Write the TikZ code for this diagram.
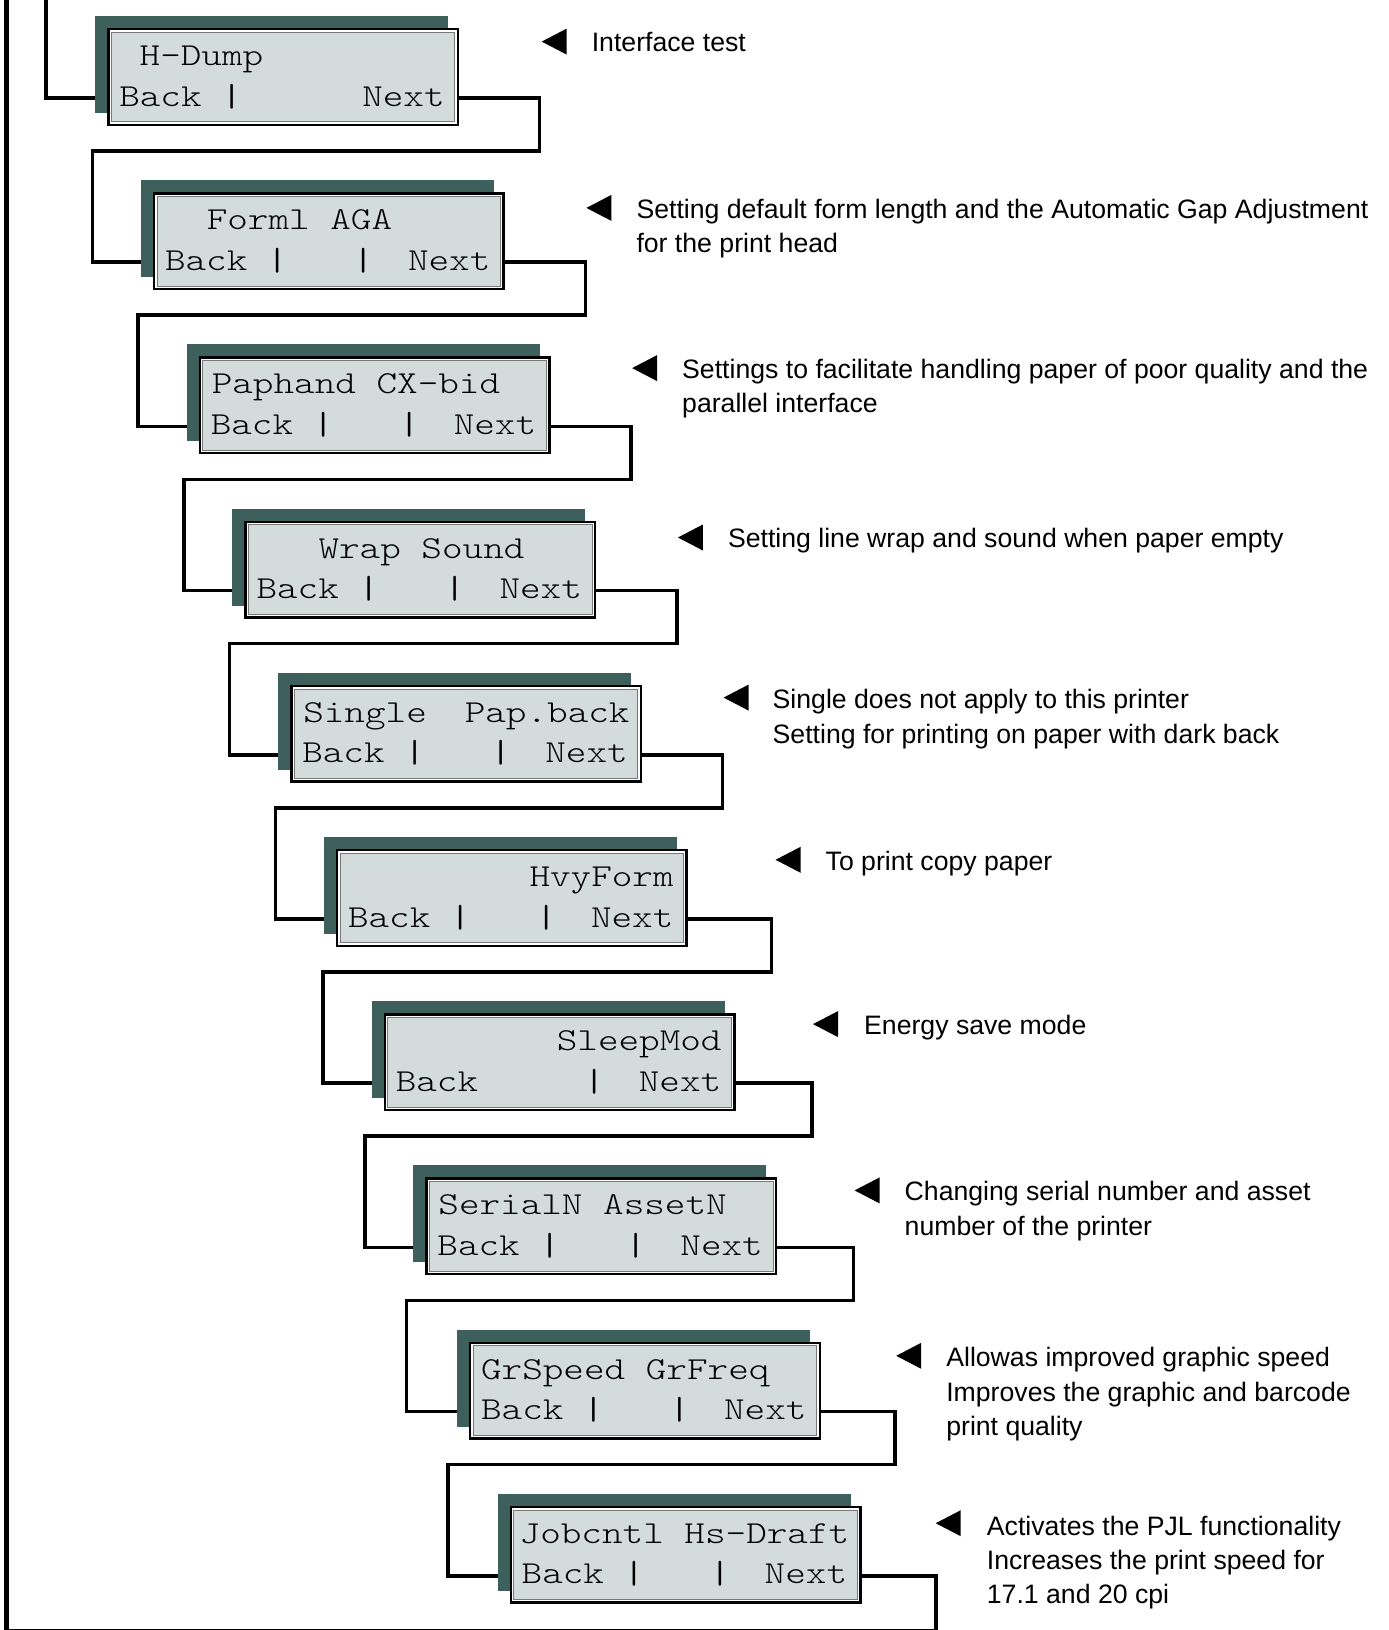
\documentclass[tikz,border=0pt]{standalone}
\usepackage{fontspec}
\usepackage{graphicx}
\usetikzlibrary{calc}
\newfontfamily\annfont{Liberation Sans}
\newfontfamily\lcdfont{lmmonolt10-regular.otf}
\definecolor{lcdfill}{RGB}{212,220,219}
\definecolor{lcdshadow}{RGB}{61,96,93}
\definecolor{lcdframe}{RGB}{120,120,120}
\newcommand\lcd[1]{\scalebox{1.226}[1]{#1}}
% #1 name, #2 left, #3 top, #4 x offset of first line, #5 first line text
\newcommand\mkbox[5]{%
  \fill[lcdshadow] ({#2-12},{#3-12}) rectangle ({#2+341},{#3+85});
  \node[lcdbox] (#1) at (#2,#3) {};
  \draw[lcdinner] ([shift={(4.2,4.2)}]#1.north west) rectangle ([shift={(-4.2,-4.2)}]#1.south east);
  \node[lcdtxt] (#1-l1) at ([shift={(#4,37.5)}]#1.north west) {\lcd{#5}};
  \node[lcdtxt] (#1-back) at ([shift={(12,78)}]#1.north west) {\lcd{Back}};
  \node[lcdtxt] (#1-next) at ([shift={(255,78)}]#1.north west) {\lcd{Next}};
  \coordinate (#1-in) at ([shift={(-12,70)}]#1.north west);
  \coordinate (#1-out) at ([shift={(0,70)}]#1.north east);
}
\newcommand\barA[1]{\node[lcdbar] (#1-bar1) at ([shift={(124.5,78)}]#1.north west) {\lcd{|}};}
\newcommand\barB[1]{\node[lcdbar] (#1-bar2) at ([shift={(210.5,78)}]#1.north west) {\lcd{|}};}
\newcommand\tri[2]{\fill (#1,#2) -- ++(25,-13) -- ++(0,26) -- cycle;}

\begin{document}
\begin{tikzpicture}[x=1pt,y=-1pt,
  lcdbox/.style={draw=black, line width=2.4pt, fill=white, minimum width=349.6pt,
    minimum height=95.6pt, inner sep=0pt, anchor=north west},
  lcdinner/.style={draw=lcdframe, line width=1pt, fill=lcdfill},
  lcdtxt/.style={font=\fontsize{32}{40}\selectfont\lcdfont, inner sep=0pt, anchor=base west},
  lcdbar/.style={font=\fontsize{32}{40}\selectfont\ttfamily, inner sep=0pt, anchor=base},
  conn/.style={draw=black, line width=3.6pt},
  ann/.style={font=\annfont\fontsize{26.65}{34.3}\selectfont, inner sep=0pt, anchor=base west}]
\useasboundingbox (0,0) rectangle (1389,1630);
\clip (0,0) rectangle (1389,1630);

% boxes
\mkbox{b1}{107.1}{28}{32.4}{H-Dump}\barA{b1}
\mkbox{b2}{152.8}{192.2}{53.8}{Forml AGA}\barA{b2}\barB{b2}
\mkbox{b3}{198.6}{356.4}{13}{Paphand CX-bid}\barA{b3}\barB{b3}
\mkbox{b4}{244.3}{520.6}{74}{Wrap Sound}\barA{b4}\barB{b4}
\mkbox{b5}{290.1}{684.8}{13}{Single}\barA{b5}\barB{b5}
\node[lcdtxt] (b5-l1b) at ([shift={(174.5,37.5)}]b5.north west) {\lcd{Pap.back}};
\mkbox{b6}{335.8}{849}{193.5}{HvyForm}\barA{b6}\barB{b6}
\mkbox{b7}{383.6}{1013.2}{173}{SleepMod}\barB{b7}
\mkbox{b8}{425.2}{1177.4}{13}{SerialN AssetN}\barA{b8}\barB{b8}
\mkbox{b9}{468.9}{1341.6}{12}{GrSpeed GrFreq}\barA{b9}\barB{b9}
\mkbox{b10}{509.5}{1505.8}{10}{Jobcntl Hs-Draft}\barA{b10}\barB{b10}

% connectors
\coordinate (top0) at (45.7,-5);
\draw[conn] (top0) |- (b1-in);
\draw[conn] (b1-out) -| ($(b1-out)+(80.5,53)$) -| ($(b2-in)+(-48.5,0)$) -- (b2-in);
\draw[conn] (b2-out) -| ($(b2-out)+(80.5,53)$) -| ($(b3-in)+(-48.5,0)$) -- (b3-in);
\draw[conn] (b3-out) -| ($(b3-out)+(80.5,53)$) -| ($(b4-in)+(-48.5,0)$) -- (b4-in);
\draw[conn] (b4-out) -| ($(b4-out)+(80.5,53)$) -| ($(b5-in)+(-48.5,0)$) -- (b5-in);
\draw[conn] (b5-out) -| ($(b5-out)+(80.5,53)$) -| ($(b6-in)+(-48.5,0)$) -- (b6-in);
\draw[conn] (b6-out) -| ($(b6-out)+(83.7,53)$) -| ($(b7-in)+(-48.5,0)$) -- (b7-in);
\draw[conn] (b7-out) -| ($(b7-out)+(76.4,53)$) -| ($(b8-in)+(-48.5,0)$) -- (b8-in);
\draw[conn] (b8-out) -| ($(b8-out)+(76.4,53)$) -| ($(b9-in)+(-50.4,0)$) -- (b9-in);
\draw[conn] (b9-out) -| ($(b9-out)+(74.3,53)$) -| ($(b10-in)+(-49.4,0)$) -- (b10-in);
\coordinate (retbr) at (935.7,1631);
\coordinate (rettop) at (6.5,-5);
\draw[conn] (b10-out) -| (retbr) -| (rettop);
\draw[black, line width=4.6pt] (6.5,1631) -- (rettop);

% annotations
\tri{541.7}{41.6}
\node[ann] (n1) at (591.6,51.6) {Interface test};
\tri{586.4}{207.9}
\node[ann] (n2a) at (636.3,218.4) {Setting default form length and the Automatic Gap Adjustment};
\node[ann] (n2b) at (636.3,252.7) {for the print head};
\tri{632.1}{368.1}
\node[ann] (n3a) at (682.0,378.6) {Settings to facilitate handling paper of poor quality and the};
\node[ann] (n3b) at (682.0,412.9) {parallel interface};
\tri{677.9}{537.5}
\node[ann] (n4) at (727.8,547.5) {Setting line wrap and sound when paper empty};
\tri{723.6}{697.6}
\node[ann] (n5a) at (772.5,708.6) {Single does not apply to this printer};
\node[ann] (n5b) at (772.5,743.4) {Setting for printing on paper with dark back};
\tri{775.6}{859.8}
\node[ann] (n6) at (825.5,870.8) {To print copy paper};
\tri{813.0}{1024.1}
\node[ann] (n7) at (864.0,1034.6) {Energy save mode};
\tri{854.6}{1190.4}
\node[ann] (n8a) at (904.5,1200.9) {Changing serial number and asset};
\node[ann] (n8b) at (904.5,1235.2) {number of the printer};
\tri{896.2}{1355.8}
\node[ann] (n9a) at (946.1,1366.8) {Allowas improved graphic speed};
\node[ann] (n9b) at (946.1,1401.6) {Improves the graphic and barcode};
\node[ann] (n9c) at (946.1,1435.4) {print quality};
\tri{935.7}{1523.2}
\node[ann] (n10a) at (986.7,1535.2) {Activates the PJL functionality};
\node[ann] (n10b) at (986.7,1569.8) {Increases the print speed for};
\node[ann] (n10c) at (986.7,1603.2) {17.1 and 20 cpi};
\end{tikzpicture}
\end{document}
